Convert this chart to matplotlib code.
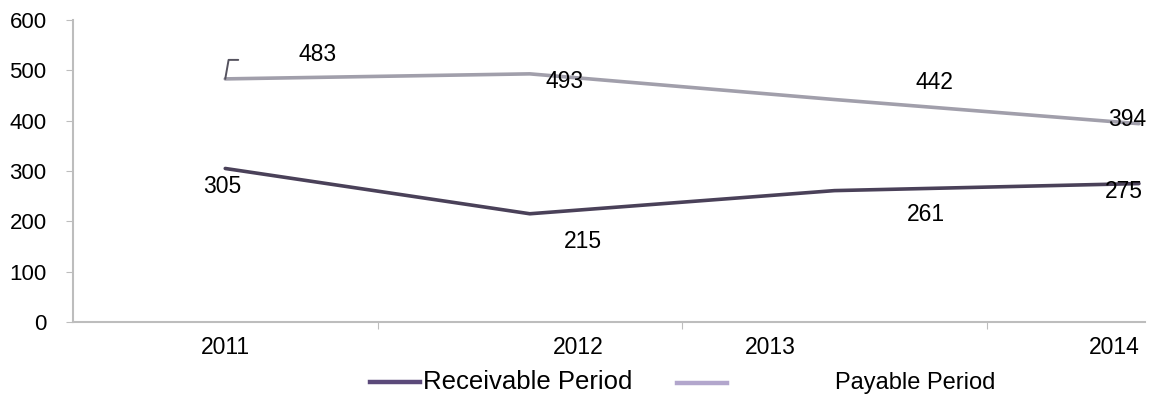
import matplotlib.pyplot as plt

years = ["2011", "2012", "2013", "2014"]
receivable = [305, 215, 261, 275]
payable = [483, 493, 442, 394]

# where each year label sits along the axis, and label offsets in pixels
year_label_pos = [0.0, 1.16, 1.79, 2.92]
recv_offsets = [(-3, -18), (53, -28), (92, -24), (-15, -8)]
pay_offsets = [(92, 24), (35, -8), (100, 17), (-12, 4)]

recv_color = "#4a4159"
pay_color = "#a19fab"
axis_color = "#bdbdbd"

plt.rcParams["font.family"] = ["Liberation Sans", "DejaVu Sans"]

fig = plt.figure(figsize=(11.62, 3.97), dpi=100)
ax = fig.add_axes([0.0628, 0.189, 0.9226, 0.7606])

x = list(range(len(years)))
ax.plot(x, payable, color=pay_color, lw=2.6, solid_capstyle="round")
ax.plot(x, receivable, color=recv_color, lw=2.6, solid_capstyle="round")

for i, v in enumerate(payable):
    ax.annotate(str(v), (i, v), xytext=pay_offsets[i], textcoords="offset pixels",
                ha="center", va="center", fontsize=16.5)
for i, v in enumerate(receivable):
    ax.annotate(str(v), (i, v), xytext=recv_offsets[i], textcoords="offset pixels",
                ha="center", va="center", fontsize=16.5)

# little leader stub at the first payable point
ax.annotate("", xy=(0, payable[0]), xytext=(13, 19), textcoords="offset pixels",
            arrowprops=dict(arrowstyle="-", color="#55535f", lw=1.4,
                            connectionstyle="angle,angleA=0,angleB=80,rad=0",
                            shrinkA=0, shrinkB=0))

ax.set_xlim(-0.5, 3.02)
ax.set_ylim(0, 600)
ax.set_yticks(range(0, 601, 100))
ax.set_xticks([0.5, 1.5, 2.5])
ax.set_xticklabels([])
ax.tick_params(axis="y", length=5, color=axis_color, labelsize=16, pad=14)
ax.tick_params(axis="x", length=5, color=axis_color, direction="out")

for side in ["top", "right"]:
    ax.spines[side].set_visible(False)
ax.spines["left"].set_color(axis_color)
ax.spines["bottom"].set_color(axis_color)
ax.spines["left"].set_linewidth(1.5)
ax.spines["bottom"].set_linewidth(1.5)

for pos, label in zip(year_label_pos, years):
    ax.text(pos, -0.085, label, transform=ax.get_xaxis_transform(),
            ha="center", va="center", fontsize=16.5)

# legend drawn by hand to keep the wide spacing
fig.add_artist(plt.Line2D([0.3185, 0.3615], [0.038, 0.038], color="#5b4a7a", lw=3.2))
fig.text(0.364, 0.038, "Receivable Period", ha="left", va="center", fontsize=18.5)
fig.add_artist(plt.Line2D([0.5825, 0.626], [0.035, 0.035], color="#b2a6cc", lw=3.2))
fig.text(0.7185, 0.035, "Payable Period", ha="left", va="center", fontsize=17)

fig.savefig("out.png", dpi=100, facecolor="white")
